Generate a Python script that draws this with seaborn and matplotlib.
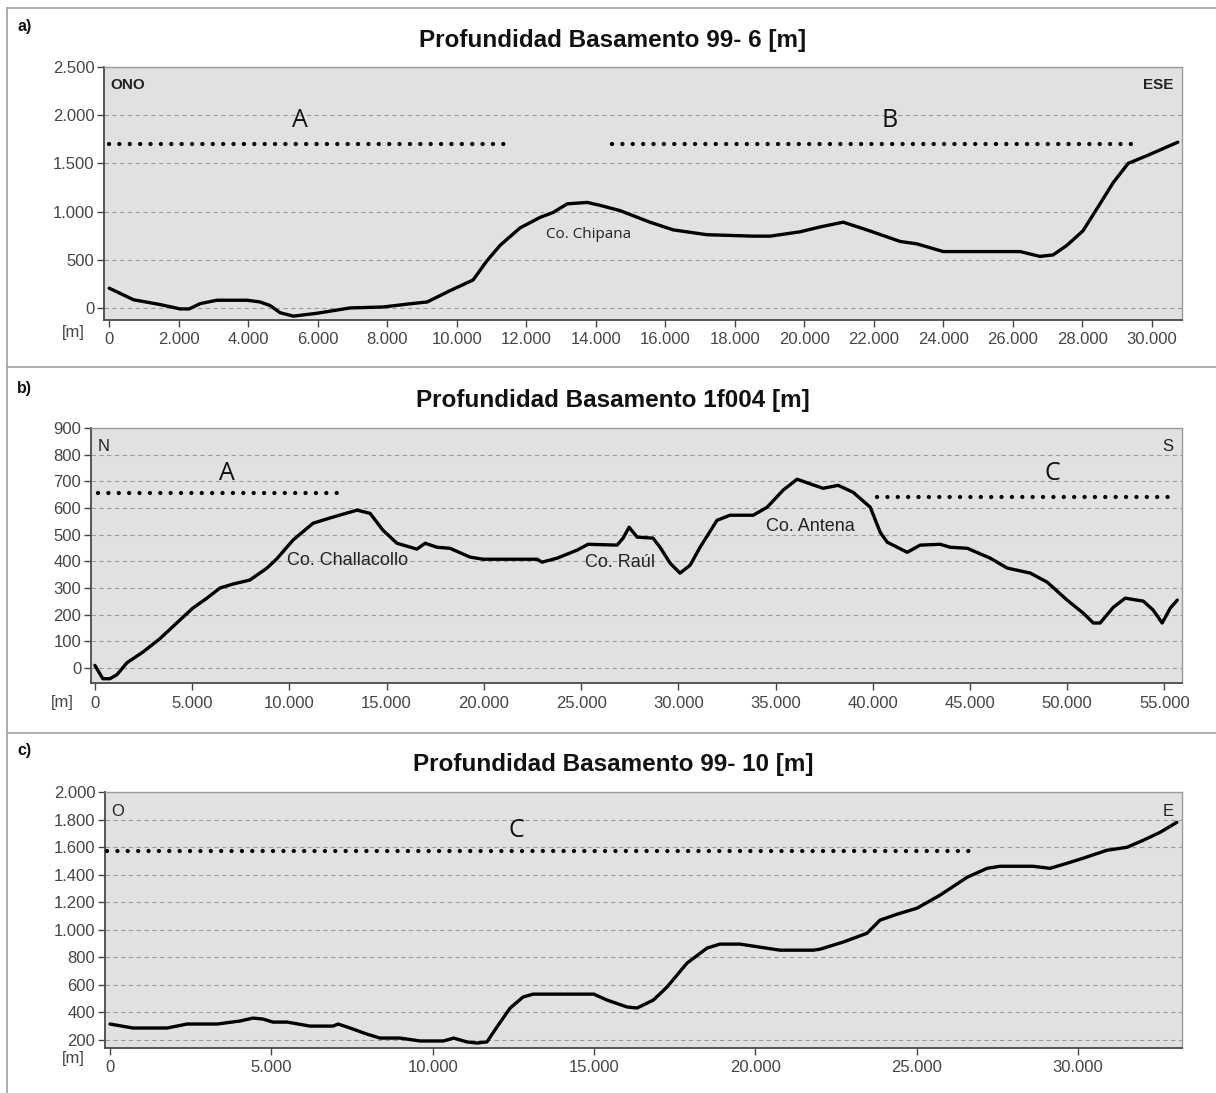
import matplotlib
matplotlib.use("Agg")
import matplotlib.pyplot as plt
from matplotlib.ticker import FuncFormatter, MultipleLocator
from matplotlib.lines import Line2D
import pandas as pd
import seaborn as sns

# ---------------- data ----------------
# Profile 99-6 (ONO -> ESE)
a_dist = [0, 700, 1470, 2040, 2300, 2620, 3100, 3970, 4340, 4630, 4920, 5300, 5980,
          6930, 7880, 8700, 9150, 9810, 10470, 10870, 11250, 11820, 12400, 12770,
          13180, 13750, 14120, 14700, 15560, 16230, 17200, 18530, 19020, 19880,
          20450, 21120, 21800, 22760, 23240, 24000, 26210, 26780, 27160, 27560,
          28020, 28510, 28890, 29320, 29860, 30750]
a_depth = [205, 85, 35, -10, -10, 45, 80, 80, 62, 25, -50, -85, -55,
           0, 10, 45, 62, 180, 290, 490, 650, 830, 940, 990,
           1080, 1095, 1065, 1010, 890, 810, 760, 745, 745, 790,
           840, 890, 810, 690, 665, 585, 585, 535, 550, 650,
           800, 1080, 1300, 1500, 1580, 1720]

# Profile 1f004 (N -> S)
b_dist = [0, 410, 770, 1130, 1650, 2470, 3340, 4370, 5040, 5760, 6430, 7100, 7970,
          8850, 9360, 10190, 11220, 12240, 13480, 14150, 14810, 15530, 16560,
          16980, 17590, 18260, 19290, 19960, 22740, 22990, 23770, 24790, 25360,
          26850, 27160, 27470, 27880, 28700, 29060, 29580, 30090, 30610, 31120,
          31990, 32660, 33850, 34570, 35390, 36110, 36800, 37450, 38220, 38990,
          39870, 40380, 40740, 41770, 42440, 43470, 43980, 44860, 46040, 46910,
          48100, 48970, 49990, 50820, 51340, 51690, 52370, 52980, 53910, 54420,
          54880, 55300, 55660]
b_depth = [10, -40, -40, -25, 20, 60, 110, 180, 225, 262, 300, 315, 330,
           375, 410, 480, 543, 566, 592, 580, 517, 468, 446,
           468, 453, 449, 416, 408, 408, 397, 412, 442, 464,
           461, 487, 528, 491, 487, 453, 393, 356, 386, 453,
           554, 573, 573, 603, 667, 708, 690, 674, 685, 659,
           603, 509, 472, 434, 461, 464, 453, 449, 412, 375,
           356, 322, 255, 206, 169, 169, 228, 262, 251, 217,
           169, 225, 255]

# Profile 99-10 (O -> E)
c_dist = [0, 710, 1770, 2390, 3320, 4030, 4430, 4740, 5050, 5490, 6200, 6910, 7070,
          7440, 7960, 8370, 8990, 9610, 10330, 10650, 11060, 11370, 11680, 11990,
          12400, 12800, 13110, 14990, 15400, 16020, 16330, 16840, 17260, 17880,
          18500, 18900, 19520, 20140, 20760, 21790, 22000, 22710, 23460, 23860,
          24390, 25010, 25720, 26560, 27180, 27580, 28600, 29130, 29660, 30150,
          30890, 31520, 32010, 32540, 33060]
c_depth = [316, 287, 287, 316, 316, 338, 359, 352, 330, 330, 301, 301, 316,
           287, 243, 214, 214, 193, 193, 214, 186, 178, 186, 294,
           432, 512, 533, 533, 490, 440, 432, 490, 584, 758,
           867, 896, 896, 874, 852, 852, 859, 910, 975, 1070,
           1113, 1157, 1251, 1381, 1446, 1461, 1461, 1446, 1483, 1519,
           1577, 1599, 1649, 1707, 1780]

# Zone markers: (name, x start, x end, level, label x, label y)
a_zones = [("A", 0, 11550, 1700, 5500, 1940), ("B", 14470, 29660, 1700, 22450, 1940)]
b_zones = [("A", 150, 12960, 655, 6800, 730), ("C", 40220, 55650, 640, 49230, 730)]
c_zones = [("C", -100, 26700, 1575, 12600, 1720)]

a_titles = ("Profundidad Basamento 99- 6 [m]", "ONO", "ESE")
b_titles = ("Profundidad Basamento 1f004 [m]", "N", "S")
c_titles = ("Profundidad Basamento 99- 10 [m]", "O", "E")

# ---------------- style ----------------
sns.set_style("white")
plt.rcParams['font.family'] = ['Liberation Sans', 'DejaVu Sans']

W, H = 1216, 1093
fig = plt.figure(figsize=(W / 100, H / 100), dpi=100)


def box(l, t, r, b):
    return [l / W, 1 - b / H, (r - l) / W, (b - t) / H]


def fig_xy(x, y):
    return x / W, 1 - y / H


thousands = FuncFormatter(lambda v, p: f"{int(round(v)):,}".replace(",", "."))


def draw_panel(rect, dist, depth, zones, titles, xlim, ylim, xstep, ystep, bold_dirs):
    ax = fig.add_axes(rect)
    df = pd.DataFrame({"dist": dist, "depth": depth})
    ax.set_facecolor("#e1e1e1")
    ax.yaxis.grid(True, color="#9c9c9c", linestyle=(0, (4, 3)), linewidth=0.8)
    ax.xaxis.grid(False)
    ax.set_axisbelow(True)
    sns.lineplot(data=df, x="dist", y="depth", ax=ax, color="black", linewidth=2.4,
                 sort=False, estimator=None, zorder=4)
    for name, x0, x1, lvl, lx, ly in zones:
        ax.plot([x0, x1], [lvl, lvl], color="black", linewidth=3.1,
                linestyle=(0, (0.01, 2.4)), dash_capstyle="round", zorder=3)
        ax.text(lx, ly, name, ha="center", va="center", fontsize=18,
                family=["Open Sans", "DejaVu Sans"], color="#111111")
    ax.set_xlim(*xlim)
    ax.set_ylim(*ylim)
    ax.xaxis.set_major_locator(MultipleLocator(xstep))
    ax.yaxis.set_major_locator(MultipleLocator(ystep))
    ax.xaxis.set_major_formatter(thousands)
    ax.yaxis.set_major_formatter(thousands)
    ax.set_xlabel("")
    ax.set_ylabel("")
    ax.tick_params(axis="both", direction="out", length=5, width=1, color="#444444",
                   labelsize=12, labelcolor="#454545", pad=4)
    ax.tick_params(axis="x", bottom=True, left=False)
    ax.tick_params(axis="y", left=True, bottom=False, pad=2)
    for side in ("left", "bottom"):
        ax.spines[side].set_color("#4a4a4a")
        ax.spines[side].set_linewidth(1.3)
    for side in ("top", "right"):
        ax.spines[side].set_color("#9a9a9a")
        ax.spines[side].set_linewidth(1.0)
    title, left_dir, right_dir = titles
    w = "bold" if bold_dirs else "normal"
    fs = 11 if bold_dirs else 12
    ax.text(0.006, 0.955, left_dir, transform=ax.transAxes, ha="left", va="top",
            fontsize=fs, fontweight=w, color="#222222")
    ax.text(0.992, 0.955, right_dir, transform=ax.transAxes, ha="right", va="top",
            fontsize=fs, fontweight=w, color="#222222")
    return ax


ax_a = draw_panel(box(104, 67, 1182, 320), a_dist, a_depth, a_zones, a_titles,
                  (-150, 30870), (-125, 2500), 2000, 500, True)
ax_a.text(13800, 760, "Co. Chipana", ha="center", va="center", fontsize=11,
          family=["Open Sans", "DejaVu Sans"], color="#222222")

ax_b = draw_panel(box(91, 428, 1182, 683), b_dist, b_depth, b_zones, b_titles,
                  (-200, 55900), (-56, 900), 5000, 100, False)
ax_b.text(13000, 404, "Co. Challacollo", ha="center", va="center", fontsize=13, color="#222222")
ax_b.text(27000, 397, "Co. Raúl", ha="center", va="center", fontsize=13, color="#222222")
ax_b.text(36780, 532, "Co. Antena", ha="center", va="center", fontsize=13, color="#222222")

ax_c = draw_panel(box(105, 792, 1182, 1048), c_dist, c_depth, c_zones, c_titles,
                  (-155, 33220), (142, 2000), 5000, 200, False)

# titles, panel letters and unit labels
for ty, title in ((40, a_titles[0]), (400, b_titles[0]), (765, c_titles[0])):
    fig.text(*fig_xy(613, ty), title, ha="center", va="center", fontsize=17.5,
             fontweight="bold", color="#111111")
for ly, letter in ((27, "a)"), (388, "b)"), (750, "c)")):
    fig.text(*fig_xy(17, ly), letter, ha="left", va="center", fontsize=11.5,
             fontweight="bold", color="#111111")
for (ux, uy) in ((73, 333), (62, 703), (73, 1058)):
    fig.text(*fig_xy(ux, uy), "[m]", ha="center", va="center", fontsize=12, color="#454545")

# panel frames
for sy in (8, 367, 733):
    fig.add_artist(Line2D([7 / W, 1], [1 - sy / H, 1 - sy / H], color="#a0a0a0", linewidth=1.2))
fig.add_artist(Line2D([7 / W, 7 / W], [0, 1 - 8 / H], color="#a0a0a0", linewidth=1.2))

fig.savefig("out.png", dpi=100, facecolor="white")
